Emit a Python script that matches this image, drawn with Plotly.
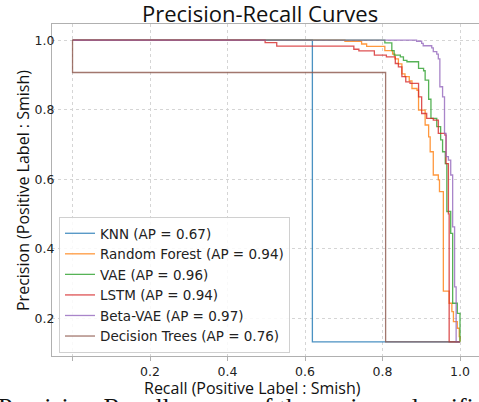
import plotly.graph_objects as go

# ---- data (recall, precision) ----
knn_recall = [0.0, 0.619, 1.0]
knn_precision = [1.0, 0.132, 0.132]

rf_recall = [0.0, 0.703, 0.746, 0.759, 0.806, 0.826, 0.832, 0.841, 0.850, 0.858, 0.869, 0.876,
             0.889, 0.893, 0.910, 0.919, 0.923, 0.931, 0.944, 0.947, 0.957, 0.972, 0.979, 0.983,
             0.993, 0.998, 1.0]
rf_precision = [1.0, 0.997, 0.989, 0.982, 0.970, 0.960, 0.946, 0.932, 0.903, 0.895, 0.883, 0.861,
                0.856, 0.799, 0.756, 0.722, 0.679, 0.612, 0.598, 0.564, 0.278, 0.243, 0.219, 0.190,
                0.171, 0.147, 0.132]

vae_recall = [0.0, 0.806, 0.824, 0.830, 0.846, 0.854, 0.863, 0.893, 0.906, 0.910, 0.919, 0.925,
              0.940, 0.950, 0.955, 0.962, 0.966, 0.976, 0.981, 0.993, 1.0, 1.0]
vae_precision = [1.0, 0.992, 0.970, 0.957, 0.952, 0.942, 0.938, 0.919, 0.912, 0.885, 0.830, 0.775,
                 0.751, 0.713, 0.679, 0.645, 0.507, 0.444, 0.243, 0.214, 0.183, 0.132]

lstm_recall = [0.0, 0.497, 0.527, 0.726, 0.739, 0.779, 0.810, 0.833, 0.841, 0.850, 0.860, 0.871,
               0.893, 0.901, 0.914, 0.931, 0.944, 0.961, 0.964, 0.970, 0.972, 1.0]
lstm_precision = [1.0, 0.993, 0.983, 0.974, 0.969, 0.957, 0.952, 0.933, 0.923, 0.895, 0.880, 0.876,
                  0.837, 0.789, 0.775, 0.770, 0.732, 0.727, 0.645, 0.500, 0.132, 0.132]

bvae_recall = [0.0, 0.888, 0.901, 0.905, 0.927, 0.931, 0.940, 0.944, 0.948, 0.955, 0.960, 0.964,
               0.970, 0.976, 0.981, 0.986, 0.990, 1.0]
bvae_precision = [1.0, 0.997, 0.991, 0.984, 0.978, 0.967, 0.960, 0.946, 0.866, 0.837, 0.732, 0.665,
                  0.655, 0.612, 0.463, 0.290, 0.132, 0.132]

dt_recall = [0.0, 0.0, 0.808, 1.0]
dt_precision = [1.0, 0.907, 0.132, 0.132]

names = ["KNN (AP = 0.67)", "Random Forest (AP = 0.94)", "VAE (AP = 0.96)",
         "LSTM (AP = 0.94)", "Beta-VAE (AP = 0.97)", "Decision Trees (AP = 0.76)"]
colors = ["#1f77b4", "#ff7f0e", "#2ca02c", "#d62728", "#9467bd", "#8c564b"]
series = [(knn_recall, knn_precision), (rf_recall, rf_precision), (vae_recall, vae_precision),
          (lstm_recall, lstm_precision), (bvae_recall, bvae_precision), (dt_recall, dt_precision)]

x_ticks = [0.0, 0.2, 0.4, 0.6, 0.8, 1.0]
x_tick_text = ["", "0.2", "0.4", "0.6", "0.8", "1.0"]
y_ticks = [0.2, 0.4, 0.6, 0.8, 1.0]
y_tick_text = ["0.2", "0.4", "0.6", "0.8", "1.0"]

fig = go.Figure()
for (r, p), n, c in zip(series, names, colors):
    fig.add_trace(go.Scatter(x=r, y=p, mode="lines", name=n, line=dict(color=c, width=1.3, shape="hv"),
                             opacity=0.8))

W, H = 479, 402
L, R, T, B = 52, 0, 24, 46
pw, ph = W - L - R, H - T - B

axis_common = dict(showline=True, linecolor="#b0b0b0", linewidth=1, mirror=True,
                   showgrid=True, gridcolor="#d5d5d5", griddash="dot", gridwidth=1,
                   zeroline=False,
                   tickfont=dict(family="DejaVu Sans", size=12.5, color="#222"))

fig.update_layout(
    width=W, height=H, margin=dict(l=L, r=R, t=T, b=B),
    paper_bgcolor="white", plot_bgcolor="white",
    xaxis=dict(range=[-0.053, 1.049], tickvals=x_ticks, ticktext=x_tick_text,
               ticks="outside", ticklen=4, tickcolor="#b0b0b0", **axis_common),
    yaxis=dict(range=[0.0912, 1.0466], tickvals=y_ticks, ticktext=y_tick_text,
               ticks="", ticklabelstandoff=-6, **axis_common),
    legend=dict(x=(59 - L) / pw, y=3 / ph, xanchor="left", yanchor="bottom",
                bgcolor="rgba(255,255,255,0.85)", bordercolor="#d0d0d0", borderwidth=1,
                font=dict(family="DejaVu Sans", size=13.5, color="#222"), itemwidth=30),
    showlegend=True,
)

def px_x(x):
    return (x - L) / pw

def px_y(y):
    return (H - B - y) / ph

fig.add_annotation(text="Precision-Recall Curves", x=px_x(260), y=px_y(13), xref="paper", yref="paper",
                   showarrow=False, xanchor="center", yanchor="middle",
                   font=dict(family="Open Sans", size=22, color="#111"))
fig.add_annotation(text="Recall (Positive Label : Smish)", x=px_x(252), y=px_y(388), xref="paper", yref="paper",
                   showarrow=False, xanchor="center", yanchor="middle",
                   font=dict(family="Open Sans", size=16, color="#111"))
fig.add_annotation(text="Precision (Positive Label : Smish)", x=px_x(23), y=px_y(191), xref="paper", yref="paper",
                   showarrow=False, xanchor="center", yanchor="middle", textangle=-90,
                   font=dict(family="Open Sans", size=16, color="#111"))
fig.add_annotation(text="Precision-Recall curves of the various classifiers", x=px_x(-4), y=px_y(391),
                   xref="paper", yref="paper", showarrow=False, xanchor="left", yanchor="top",
                   font=dict(family="Liberation Serif", size=26, color="#111"))

fig.write_html("out.html", config={"displayModeBar": False},
               post_script="document.body.style.margin='0px';document.body.style.overflow='hidden';")
